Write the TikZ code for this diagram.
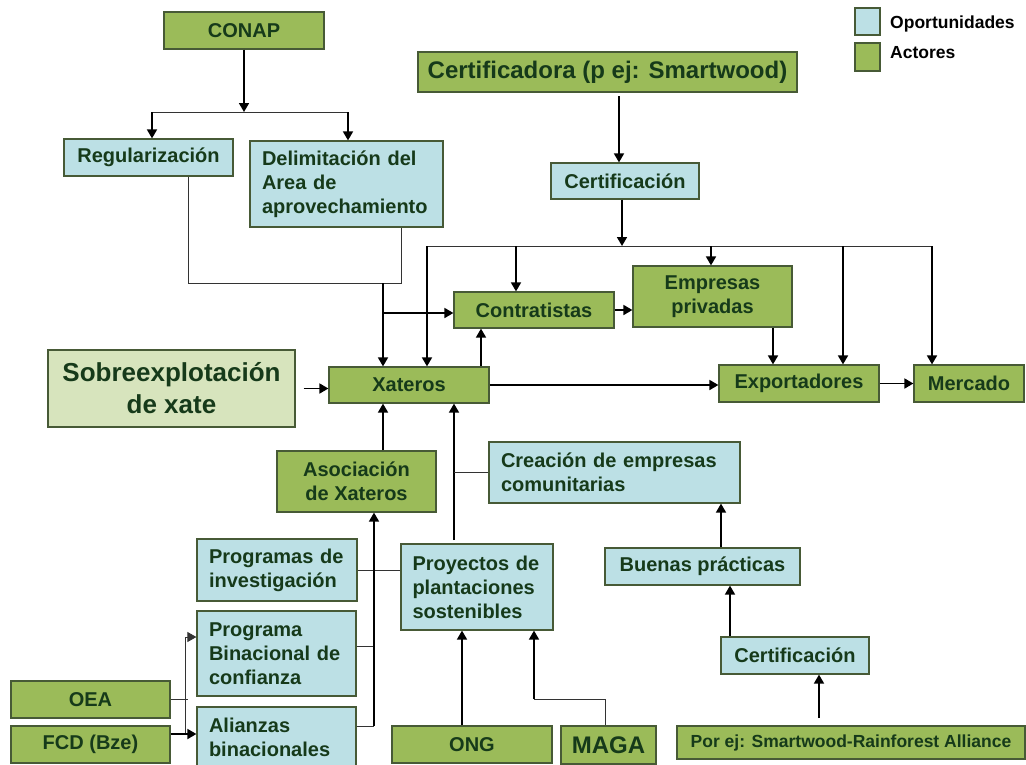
\documentclass[tikz,border=0pt]{standalone}
\usepackage{fontspec}
\setmainfont{Liberation Sans}
\usetikzlibrary{arrows.meta}
\definecolor{actorfill}{HTML}{9BBB59}
\definecolor{oportfill}{HTML}{BCE0E5}
\definecolor{sobrefill}{HTML}{D7E4BD}
\definecolor{boxline}{HTML}{475A36}
\definecolor{ink}{HTML}{163A1A}
\begin{document}
\begin{tikzpicture}[x=1pt,y=-1pt]
	\tikzstyle{every node}+=[inner sep=0pt]
	\tikzstyle{actor}=[draw=boxline,line width=1.2pt,fill=actorfill,text=ink,font=\bfseries\fontsize{20}{24}\selectfont]
	\tikzstyle{oport}=[actor,fill=oportfill]
	\tikzstyle{arr}=[line width=1.7pt,-{Triangle[length=9pt,width=10pt]}]
	\tikzstyle{link}=[line width=0.9pt,draw=black!80]
	\tikzstyle{thinarr}=[link,-{Triangle[length=9pt,width=10pt]}]
	\useasboundingbox (0,0) rectangle (1026,764);
	\node[actor,minimum width=160pt,minimum height=37pt] (conap) at (244,30.5) {CONAP};
	\node[actor,minimum width=379pt,minimum height=40pt,font=\bfseries\fontsize{24}{29}\selectfont] (certora) at (607.5,72) {Certificadora (p ej: Smartwood)};
	\node[oport,minimum width=169pt,minimum height=37pt] (regul) at (148.5,157.5) {Regularización};
	\node[oport,minimum width=193pt,minimum height=86pt,text width=169pt,align=left] (delim) at (346.5,184) {Delimitación del\\Area de\\aprovechamiento};
	\node[oport,minimum width=148pt,minimum height=36pt] (certa) at (625,181) {Certificación};
	\node[actor,minimum width=160pt,minimum height=36pt] (contra) at (534,310) {Contratistas};
	\node[actor,minimum width=159pt,minimum height=61pt,align=center] (empresas) at (712.5,296.5) {Empresas\\privadas};
	\node[actor,fill=sobrefill,minimum width=247pt,minimum height=77pt,align=center,font=\bfseries\fontsize{26}{32}\selectfont] (sobre) at (171.5,388.5) {Sobreexplotación\\de xate};
	\node[actor,minimum width=160pt,minimum height=36pt] (xateros) at (409,385) {Xateros};
	\node[actor,minimum width=160pt,minimum height=37pt] (export) at (799,383.5) {Exportadores};
	\node[actor,minimum width=110pt,minimum height=37pt] (mercado) at (969,383.5) {Mercado};
	\node[actor,minimum width=159pt,minimum height=61pt,align=center] (asoc) at (356.5,481.5) {Asociación\\de Xateros};
	\node[oport,minimum width=251pt,minimum height=61pt,text width=227pt,align=left] (creacion) at (614.5,472.5) {Creación de empresas\\comunitarias};
	\node[oport,minimum width=160pt,minimum height=62pt,text width=136pt,align=left] (progi) at (277,570) {Programas de\\investigación};
	\node[oport,minimum width=152pt,minimum height=86pt,text width=129pt,align=left] (proyectos) at (477,587) {Proyectos de\\plantaciones\\sostenibles};
	\node[oport,minimum width=195pt,minimum height=37pt] (buenas) at (702.5,566.5) {Buenas prácticas};
	\node[oport,minimum width=159pt,minimum height=85pt,text width=135pt,align=left] (pbin) at (276.5,653.5) {Programa\\Binacional de\\confianza};
	\node[oport,minimum width=148pt,minimum height=37pt] (certb) at (795,655.5) {Certificación};
	\node[actor,minimum width=159pt,minimum height=37pt] (oea) at (90.5,699.5) {OEA};
	\node[oport,minimum width=159pt,minimum height=61pt,text width=135pt,align=left] (alianzas) at (276.5,737.5) {Alianzas\\binacionales};
	\node[actor,minimum width=159pt,minimum height=37pt] (fcd) at (90.5,744.5) {FCD (Bze)};
	\node[actor,minimum width=160pt,minimum height=37pt] (ong) at (472,744.5) {ONG};
	\node[actor,minimum width=95pt,minimum height=38pt,font=\bfseries\fontsize{24}{29}\selectfont] (maga) at (608.5,745) {MAGA};
	\node[actor,minimum width=348pt,minimum height=33pt,font=\bfseries\fontsize{17.5}{21}\selectfont] (porej) at (851,742.5) {Por ej: Smartwood-Rainforest Alliance};
	\node[oport,minimum width=25pt,minimum height=27pt] (legop) at (867.5,21.5) {};
	\node[actor,minimum width=25pt,minimum height=28pt] (legac) at (867.5,57) {};
	\node[anchor=west,font=\bfseries\fontsize{17.5}{21}\selectfont] (legoptxt) at (890,24) {Oportunidades};
	\node[anchor=west,font=\bfseries\fontsize{17.5}{21}\selectfont] (legactxt) at (890,53) {Actores};
	\coordinate (cj) at (244,112);
	\coordinate (cjl) at (152,112);
	\coordinate (cjr) at (348,112);
	\draw[arr] (conap) -- (cj);
	\draw[link] (cjl) -- (cjr);
	\draw[arr] (cjl) -- (regul.north -| cjl);
	\draw[arr] (cjr) -- (delim.north -| cjr);
	\coordinate (rj) at (383,283);
	\coordinate (rl) at (188,283);
	\coordinate (rr) at (401,283);
	\coordinate (rc) at (383,313);
	\draw[link] (regul.south -| rl) -- (rl) -- (rr) -- (delim.south -| rr);
	\draw[arr] (rj) -- (xateros.north -| rj);
	\draw[arr] (rc) -- (contra.west |- rc);
	\coordinate (ca) at (619,96);
	\coordinate (cb) at (622,246);
	\coordinate (cbl) at (427,246);
	\coordinate (cb1) at (516,246);
	\coordinate (cb2) at (711,246);
	\coordinate (cb3) at (843,246);
	\coordinate (cbr) at (932,246);
	\draw[arr] (ca) -- (certa.north -| ca);
	\draw[arr] (certa.south -| cb) -- (cb);
	\draw[link] (cbl) -- (cbr);
	\draw[arr] (cbl) -- (xateros.north -| cbl);
	\draw[arr] (cb1) -- (contra.north -| cb1);
	\draw[arr] (cb2) -- (empresas.north -| cb2);
	\draw[arr] (cb3) -- (export.north -| cb3);
	\draw[arr] (cbr) -- (mercado.north -| cbr);
	\coordinate (xc) at (481,0);
	\coordinate (ee) at (773,0);
	\draw[arr] (xateros.north -| xc) -- (contra.south -| xc);
	\draw[arr] (contra.east) -- (empresas.west |- contra.east);
	\draw[arr] (empresas.south -| ee) -- (export.north -| ee);
	\draw[arr] (xateros.east) -- (export.west |- xateros.east);
	\draw[arr] (export) -- (mercado);
	\draw[arr] ([xshift=8pt]sobre.east) -- (xateros.west |- sobre.east);
	\draw[arr] (asoc.north -| rj) -- (xateros.south -| rj);
	\coordinate (pv) at (454,540);
	\draw[arr] (pv) -- (xateros.south -| pv);
	\draw[link] (creacion.west) -- (creacion.west -| pv);
	\draw[link] (progi.east) -- (proyectos.west |- progi.east);
	\coordinate (av) at (374,726);
	\coordinate (ab) at (374,646);
	\draw[link] (pbin.east |- ab) -- (ab);
	\draw[link] (alianzas.east |- av) -- (av);
	\draw[arr] (av) -- (asoc.south -| av);
	\coordinate (ov) at (188,699);
	\coordinate (ot) at (185,637);
	\coordinate (ob) at (185,734);
	\draw[link] (oea.east |- ov) -- (ov);
	\draw[link] (ob) -- (ot);
	\draw[thinarr] (ot) -- (pbin.west |- ot);
	\draw[arr] (fcd.east |- ob) -- (alianzas.west |- ob);
	\coordinate (og) at (462,0);
	\coordinate (mg) at (605,699);
	\coordinate (mp) at (534,699);
	\draw[arr] (ong.north -| og) -- (proyectos.south -| og);
	\draw[link] (maga.north -| mg) -- (mg) -- (mp);
	\draw[arr] (mp) -- (proyectos.south -| mp);
	\coordinate (bp) at (721,0);
	\coordinate (cp) at (730,0);
	\coordinate (pp) at (819,718);
	\draw[arr] (buenas.north -| bp) -- (creacion.south -| bp);
	\draw[arr] (certb.north -| cp) -- (buenas.south -| cp);
	\draw[arr] (pp) -- (certb.south -| pp);
\end{tikzpicture}
\end{document}
